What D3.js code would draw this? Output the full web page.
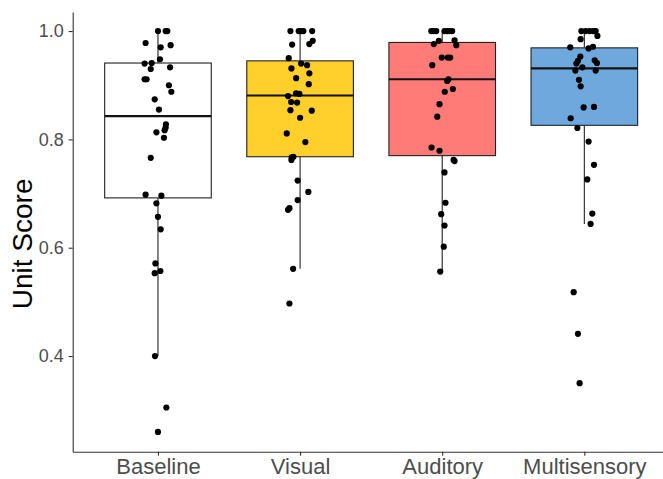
<!DOCTYPE html>
<html>
<head>
<meta charset="utf-8">
<script src="https://cdn.jsdelivr.net/npm/d3@7"></script>
<style>
  html, body { margin: 0; padding: 0; background: #fff; }
  svg { display: block; }
  text { font-family: "Liberation Sans", Arial, sans-serif; }
</style>
</head>
<body>
<svg id="chart" width="663" height="479"></svg>
<script>
// Conditions along the x axis
const categories = ["Baseline", "Visual", "Auditory", "Multisensory"];
const fills = ["#FFFFFF", "#FFCF2B", "#FF7B77", "#6FA8DC"];

// Box summaries per condition: lower whisker, Q1, median, Q3, upper whisker
const whiskerLow = [0.400, 0.561, 0.556, 0.644];
const q1         = [0.692, 0.768, 0.770, 0.826];
const median     = [0.843, 0.881, 0.911, 0.931];
const q3         = [0.941, 0.945, 0.979, 0.969];
const whiskerHigh = [1.000, 1.000, 1.000, 1.000];

// Individual unit scores per condition, with the horizontal jitter used for each dot
// (jitter is in category units)
const baselineScores = [1.000, 1.000, 1.000, 0.978, 0.970, 0.974, 0.948, 0.940, 0.941, 0.930,
  0.933, 0.911, 0.911, 0.900, 0.888, 0.874, 0.855, 0.828, 0.822, 0.817, 0.813, 0.803, 0.766,
  0.698, 0.696, 0.682, 0.657, 0.634, 0.571, 0.553, 0.557, 0.400, 0.305, 0.260];
const baselineJitter = [0, 0.054, 0.066, -0.087, 0.019, 0.089, 0.014, -0.094, -0.044, -0.051,
  0.085, -0.094, -0.080, 0.077, 0.094, -0.023, 0.007, 0.056, 0.054, 0.047, -0.011, 0.042, -0.051,
  -0.087, 0.024, -0.011, 0, 0.019, -0.018, -0.023, 0.017, -0.021, 0.059, 0];

const visualScores = [1.000, 1.000, 1.000, 1.000, 1.000, 0.975, 0.976, 0.982, 0.950, 0.940,
  0.937, 0.931, 0.922, 0.913, 0.902, 0.880, 0.885, 0.884, 0.869, 0.868, 0.854, 0.853, 0.840,
  0.811, 0.795, 0.767, 0.768, 0.762, 0.724, 0.703, 0.688, 0.673, 0.670, 0.561, 0.497];
const visualJitter = [-0.068, -0.010, 0.007, 0.023, 0.085, -0.056, 0.065, 0.089, -0.080, 0.007,
  0.049, -0.061, 0.065, -0.028, 0.061, -0.085, -0.028, -0.005, -0.063, -0.021, -0.068, 0.082, 0,
  -0.094, 0.037, -0.059, -0.047, -0.061, -0.017, 0.058, -0.017, -0.075, -0.085, -0.049, -0.075];

const auditoryScores = [1.000, 1.000, 1.000, 1.000, 1.000, 1.000, 1.000, 0.982, 0.983, 0.976,
  0.974, 0.951, 0.951, 0.951, 0.937, 0.911, 0.908, 0.893, 0.888, 0.865, 0.842, 0.785, 0.779,
  0.762, 0.760, 0.739, 0.683, 0.662, 0.641, 0.602, 0.556];
const auditoryJitter = [-0.077, -0.061, -0.042, 0.016, 0.035, 0.051, 0.070, -0.024, 0.087, -0.059,
  0.099, -0.003, 0.039, 0.056, -0.070, 0.044, 0.035, 0.075, 0.018, -0.019, -0.035, -0.075, -0.019,
  0.080, 0.087, 0.016, 0.023, -0.007, 0.016, 0.011, -0.014];

const multisensoryScores = [1.000, 1.000, 1.000, 1.000, 1.000, 0.991, 0.985, 0.971, 0.968, 0.970,
  0.953, 0.946, 0.945, 0.941, 0.940, 0.933, 0.927, 0.927, 0.910, 0.898, 0.859, 0.860, 0.839,
  0.821, 0.796, 0.753, 0.726, 0.663, 0.644, 0.518, 0.441, 0.350];
const multisensoryJitter = [-0.021, 0.009, 0.037, 0.061, 0.080, 0.092, -0.026, 0.061, 0.030, -0.099,
  -0.028, 0.073, -0.045, 0.089, -0.056, -0.014, -0.063, 0.080, -0.038, -0.026, -0.005, 0.068, -0.096,
  -0.049, 0.030, 0.068, 0.021, 0.056, 0.044, -0.075, -0.045, -0.033];

const yTicks = [0.4, 0.6, 0.8, 1.0];
const yTitle = "Unit Score";

const scores = [baselineScores, visualScores, auditoryScores, multisensoryScores];
const jitters = [baselineJitter, visualJitter, auditoryJitter, multisensoryJitter];

// Layout
const panel = { left: 72.7, top: 12, bottom: 451.7 };
const svg = d3.select("#chart");

const x = d3.scaleLinear().domain([-0.6, 3.6]).range([panel.left, 669.6]);
const y = d3.scaleLinear().domain([0.2234, 1.0352]).range([panel.bottom, panel.top]);
const boxHalf = 0.375;

const boxes = categories.map((c, i) => ({
  i, fill: fills[i],
  lo: whiskerLow[i], q1: q1[i], med: median[i], q3: q3[i], hi: whiskerHigh[i]
}));

const g = svg.append("g");

// Whiskers
g.selectAll("line.whisker-up").data(boxes).join("line")
  .attr("x1", d => x(d.i)).attr("x2", d => x(d.i))
  .attr("y1", d => y(d.q3)).attr("y2", d => y(d.hi))
  .attr("stroke", "#222").attr("stroke-width", 1.1);
g.selectAll("line.whisker-down").data(boxes).join("line")
  .attr("x1", d => x(d.i)).attr("x2", d => x(d.i))
  .attr("y1", d => y(d.q1)).attr("y2", d => y(d.lo))
  .attr("stroke", "#222").attr("stroke-width", 1.1);

// Boxes
g.selectAll("rect.box").data(boxes).join("rect")
  .attr("x", d => x(d.i - boxHalf))
  .attr("width", d => x(d.i + boxHalf) - x(d.i - boxHalf))
  .attr("y", d => y(d.q3))
  .attr("height", d => y(d.q1) - y(d.q3))
  .attr("fill", d => d.fill)
  .attr("stroke", "#222").attr("stroke-width", 1.1);

// Medians
g.selectAll("line.median").data(boxes).join("line")
  .attr("x1", d => x(d.i - boxHalf)).attr("x2", d => x(d.i + boxHalf))
  .attr("y1", d => y(d.med)).attr("y2", d => y(d.med))
  .attr("stroke", "#111").attr("stroke-width", 2.2);

// Jittered points
const points = scores.flatMap((arr, i) => arr.map((v, k) => ({ i, v, j: jitters[i][k] })));
g.selectAll("circle.pt").data(points).join("circle")
  .attr("cx", d => x(d.i + d.j))
  .attr("cy", d => y(d.v))
  .attr("r", 3.1)
  .attr("fill", "#000");

// Axes
const yAxis = d3.axisLeft(y).tickValues(yTicks).tickFormat(d3.format(".1f"))
  .tickSize(4).tickSizeOuter(0).tickPadding(5);
const yG = svg.append("g").attr("transform", `translate(${panel.left},0)`).call(yAxis);
yG.select(".domain").attr("stroke", "#333").attr("stroke-width", 1.1);
yG.selectAll(".tick line").attr("stroke", "#333").attr("stroke-width", 1.1);
yG.selectAll(".tick text").attr("fill", "#4D4D4D").style("font-size", "18px")
  .style("font-family", "'Liberation Sans', Arial, sans-serif");

const xAxis = d3.axisBottom(x).tickValues(d3.range(categories.length))
  .tickFormat(i => categories[i]).tickSize(4).tickSizeOuter(0).tickPadding(2.7);
const xG = svg.append("g").attr("transform", `translate(0,${panel.bottom})`).call(xAxis);
xG.select(".domain").attr("stroke", "#333").attr("stroke-width", 1.1);
xG.selectAll(".tick line").attr("stroke", "#333").attr("stroke-width", 1.1);
xG.selectAll(".tick text").attr("fill", "#4D4D4D").style("font-size", "22px")
  .style("font-family", "'Liberation Sans', Arial, sans-serif");

// Y axis title, centred on the panel height
svg.append("text")
  .attr("transform", `translate(32,${(panel.top + panel.bottom) / 2 + 12}) rotate(-90)`)
  .attr("text-anchor", "middle")
  .attr("fill", "#000")
  .style("font-size", "28px")
  .text(yTitle);
</script>
</body>
</html>
